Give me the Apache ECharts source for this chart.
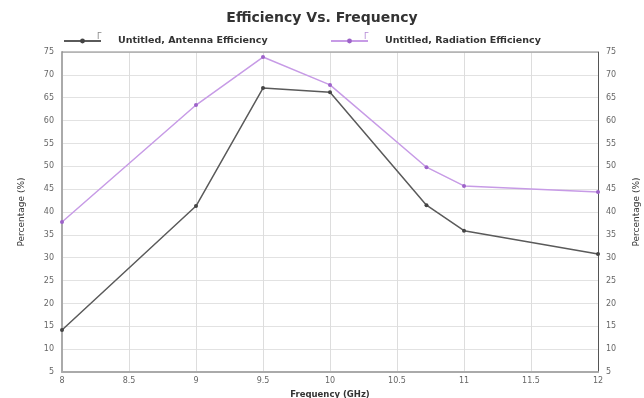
<!DOCTYPE html>
<html><head><meta charset="utf-8">
<script src="https://cdn.jsdelivr.net/npm/echarts@6/dist/echarts.min.js"></script>
<style>html,body{margin:0;padding:0;background:#fff}#c{width:644px;height:398px}</style>
</head><body><div id="c"></div>
<script>
const freq = [8, 9, 9.5, 10, 10.72, 11, 12];
const antennaEff = [14.2, 41.3, 67.1, 66.2, 41.5, 35.9, 30.8];
const radiationEff = [37.8, 63.4, 73.9, 67.8, 49.8, 45.7, 44.4];
const seriesNames = ['Untitled, Antenna Efficiency', 'Untitled, Radiation Efficiency'];
const titleText = 'Efficiency Vs. Frequency';
const xName = 'Frequency (GHz)';
const yName = 'Percentage (%)';

const chart = echarts.init(document.getElementById('c'), null, {renderer: 'canvas'});
const font = 'DejaVu Sans';
const yAxisCommon = {
  type: 'value', min: 5, max: 75, interval: 5,
  name: yName, nameLocation: 'middle',
  nameTextStyle: {fontFamily: font, fontSize: 9, color: '#333'},
  axisLabel: {fontFamily: font, fontSize: 8, color: '#666', margin: 8},
  axisTick: {show: false}
};
const legendText = {fontFamily: font, fontSize: 9.5, fontWeight: 'bold', color: '#333', padding: [0,0,0,12]};
chart.setOption({
  animation: false,
  backgroundColor: '#fff',
  title: {text: titleText, left: 'center', top: 6,
    textStyle: {fontFamily: font, fontSize: 14, fontWeight: 'bold', color: '#333'}},
  legend: [
    {data: [seriesNames[0]], left: 58, top: 31, itemWidth: 37, itemHeight: 6, textStyle: legendText},
    {data: [seriesNames[1]], left: 325, top: 31, itemWidth: 37, itemHeight: 6, textStyle: legendText}
  ],
  grid: {left: 62, right: 46, top: 52, bottom: 26, outerBoundsMode: 'none', containLabel: false},
  xAxis: {
    type: 'value', min: 8, max: 12, interval: 0.5,
    name: xName, nameLocation: 'middle', nameGap: 16,
    nameTextStyle: {fontFamily: font, fontSize: 8.5, fontWeight: 'bold', color: '#333'},
    axisLine: {lineStyle: {color: '#aaa', width: 2}},
    axisTick: {show: false},
    axisLabel: {fontFamily: font, fontSize: 8, color: '#666', margin: 5},
    splitLine: {show: true, lineStyle: {color: '#ddd', width: 1}}
  },
  yAxis: [
    Object.assign({}, yAxisCommon, {position: 'left', nameGap: 36, nameRotate: 90,
      axisLine: {show: true, lineStyle: {color: '#aaa', width: 2}},
      splitLine: {show: true, lineStyle: {color: '#e2e2e2', width: 1}}}),
    Object.assign({}, yAxisCommon, {position: 'right', nameGap: 34, nameRotate: 90,
      axisLine: {show: true, lineStyle: {color: '#555', width: 1}},
      splitLine: {show: false}})
  ],
  graphic: [
    {type: 'line', shape: {x1: 62, y1: 52, x2: 598, y2: 52}, style: {stroke: '#888', lineWidth: 1}, z: 10},
    {type: 'text', left: 97, top: 33, style: {text: '\u0393', fontSize: 8, fill: '#888', fontFamily: font}},
    {type: 'text', left: 364, top: 33, style: {text: '\u0393', fontSize: 8, fill: '#b48ad6', fontFamily: font}}
  ],
  series: [
    {name: seriesNames[0], type: 'line', yAxisIndex: 0,
     data: freq.map((f, i) => [f, antennaEff[i]]),
     symbol: 'circle', symbolSize: 4,
     lineStyle: {color: '#5a5a5a', width: 1.5},
     itemStyle: {color: '#444'}},
    {name: seriesNames[1], type: 'line', yAxisIndex: 0,
     data: freq.map((f, i) => [f, radiationEff[i]]),
     symbol: 'circle', symbolSize: 4,
     lineStyle: {color: '#c79be6', width: 1.5},
     itemStyle: {color: '#9d63c9'}}
  ]
});
</script></body></html>
